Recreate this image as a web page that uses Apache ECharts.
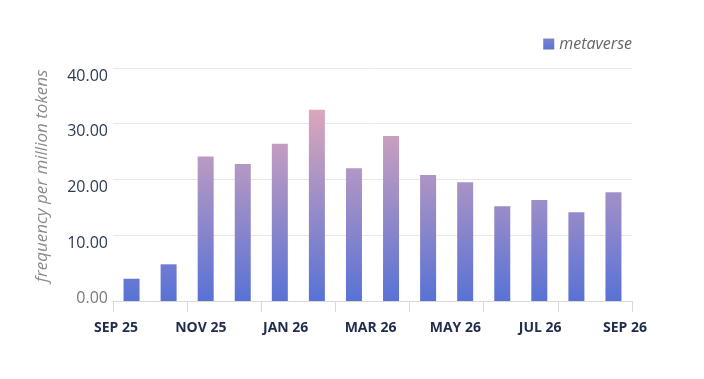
<!DOCTYPE html>
<html><head><meta charset="utf-8">
<script src="https://cdn.jsdelivr.net/npm/echarts@6/dist/echarts.min.js"></script>
<style>html,body{margin:0;padding:0;background:#fff}#c{width:704px;height:379px}</style>
</head><body><div id="c"></div>
<script>
const categories = ['2025-09','2025-10','2025-11','2025-12','2026-01','2026-02','2026-03','2026-04','2026-05','2026-06','2026-07','2026-08','2026-09','2026-10'];
const values = [2.15, 4.74, 24.1, 22.75, 26.4, 32.5, 22.0, 27.8, 20.8, 19.5, 15.15, 16.3, 14.1, 17.7];
const tickLabels = ['SEP 25','NOV 25','JAN 26','MAR 26','MAY 26','JUL 26','SEP 26'];
const tickMonths = [0, 2, 4, 6, 8, 10, 12];
const seriesName = 'metaverse';
const yName = 'frequency per million tokens';

const chart = echarts.init(document.getElementById('c'), null, {renderer: 'canvas'});
const grad = new echarts.graphic.LinearGradient(0, 301, 0, 105, [
  {offset: 0, color: '#5872d5'},
  {offset: 1, color: '#dea8bb'}
], true);
const FONT = 'Open Sans';
chart.setOption({
  animation: false,
  textStyle: {fontFamily: FONT},
  legend: {
    data: [{name: seriesName, itemStyle: {color: new echarts.graphic.LinearGradient(0, 0, 0, 1, [{offset: 0, color: '#7b83cf'}, {offset: 1, color: '#5c72d2'}])}}],
    right: 72, top: 36, padding: 0,
    icon: 'rect', itemWidth: 11, itemHeight: 11, itemGap: 10,
    textStyle: {fontStyle: 'italic', fontSize: 16, color: '#666', fontFamily: FONT}
  },
  grid: {left: 113, right: 72, top: 68, bottom: 78, outerBoundsMode: 'none', containLabel: false},
  xAxis: [
    {
      type: 'category', data: categories, boundaryGap: true,
      axisLine: {onZero: false, lineStyle: {color: '#d9d9d9', width: 1}},
      axisTick: {show: true, length: 11, lineStyle: {color: '#d9d9d9'}},
      axisLabel: {show: false},
      splitLine: {show: false}
    },
    {
      type: 'value', position: 'bottom', min: -0.071, max: 12.164,
      axisLine: {show: false, onZero: false}, axisTick: {show: false}, splitLine: {show: false},
      axisLabel: {
        customValues: tickMonths,
        formatter: v => tickLabels[tickMonths.indexOf(v)] || '',
        margin: 20, fontSize: 14, fontWeight: 'bold', color: '#1f2c4c', fontFamily: FONT,
        hideOverlap: false
      }
    }
  ],
  yAxis: {
    type: 'value', min: -1.85, max: 40, startValue: -1.85,
    name: yName, nameLocation: 'middle', nameGap: 62,
    nameTextStyle: {fontStyle: 'italic', fontSize: 17, color: '#8a8a8a', fontFamily: FONT, padding: [0, 0, 0, 17]},
    axisLine: {show: false}, axisTick: {show: false},
    splitLine: {lineStyle: {color: ['rgba(0,0,0,0)', 'rgba(0,0,0,0)', '#e8e8e8', '#e8e8e8', '#e8e8e8', '#e8e8e8'], width: 1}},
    axisLabel: {
      showMinLabel: false,
      formatter: v => Number(v).toFixed(2),
      fontSize: 16, margin: 5, verticalAlign: 'top', lineHeight: 16, fontFamily: FONT,
      color: v => (Number(v) === 0 ? '#7a7a7a' : '#2d3a55')
    }
  },
  series: [{
    name: seriesName, type: 'bar', data: values, barWidth: 16,
    xAxisIndex: 0, yAxisIndex: 0,
    itemStyle: {color: grad}
  }]
});
</script></body></html>
